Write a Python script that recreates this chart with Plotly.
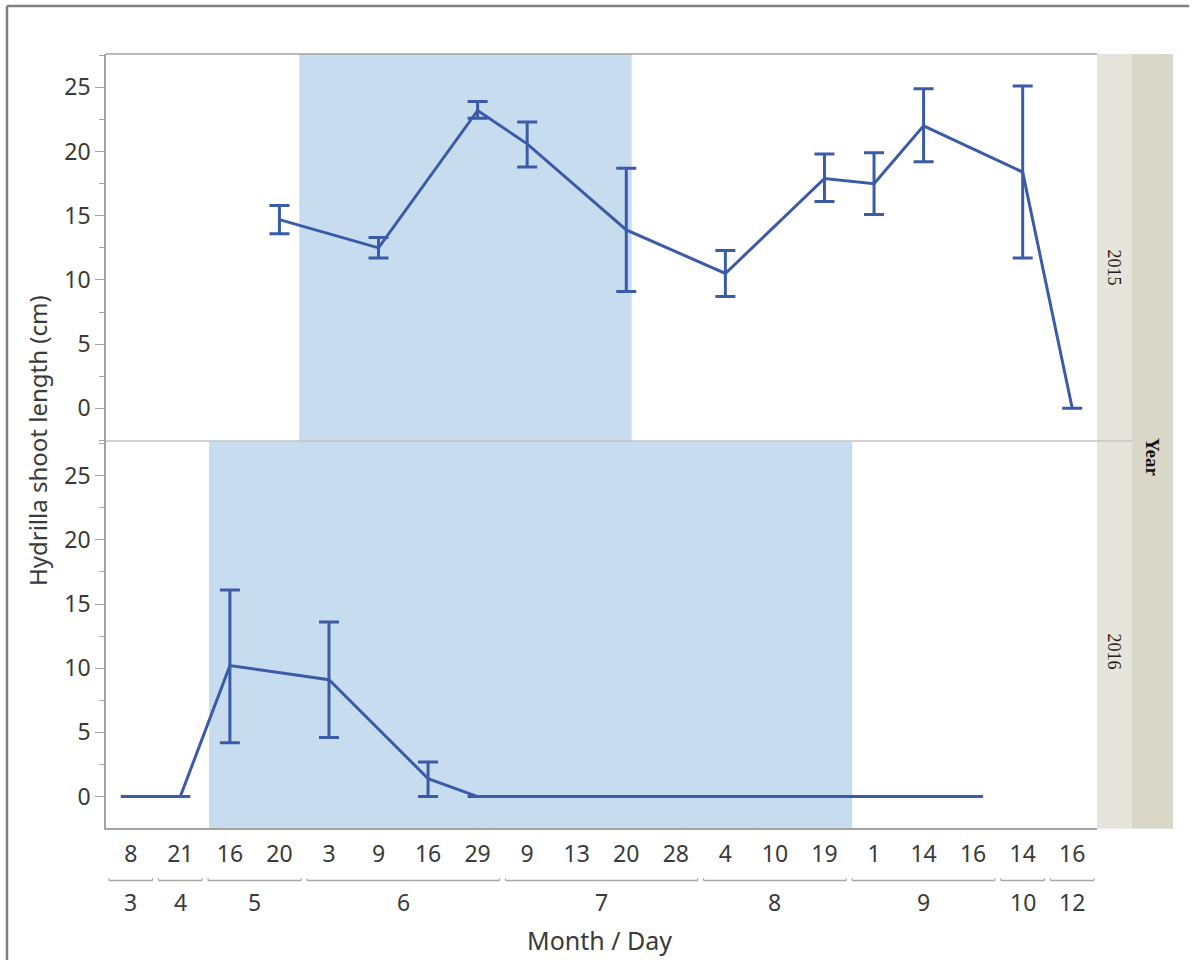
import plotly.graph_objects as go
from plotly.subplots import make_subplots

# ---------------- data ----------------
categories = ["3/8", "4/21", "5/16", "5/20", "6/3", "6/9", "6/16", "6/29", "7/9", "7/13",
              "7/20", "7/28", "8/4", "8/10", "8/19", "9/1", "9/14", "9/16", "10/14", "12/16"]
day_labels = ["8", "21", "16", "20", "3", "9", "16", "29", "9", "13",
              "20", "28", "4", "10", "19", "1", "14", "16", "14", "16"]
month_labels = ["3", "4", "5", "6", "7", "8", "9", "10", "12"]
month_counts = [1, 1, 2, 4, 4, 3, 3, 1, 1]

dates_2015 = ["5/20", "6/9", "6/29", "7/9", "7/20", "8/4", "8/19", "9/1", "9/14", "10/14", "12/16"]
mean_2015 = [14.7, 12.5, 23.2, 20.6, 13.9, 10.5, 17.9, 17.5, 22.0, 18.4, 0.0]
upper_2015 = [15.8, 13.3, 23.9, 22.3, 18.7, 12.3, 19.8, 19.9, 24.9, 25.1, 0.0]
lower_2015 = [13.6, 11.7, 22.6, 18.8, 9.1, 8.7, 16.1, 15.1, 19.2, 11.7, 0.0]

dates_2016 = ["3/8", "4/21", "5/16", "6/3", "6/16", "6/29", "7/13", "7/28", "8/10", "9/16"]
mean_2016 = [0.0, 0.0, 10.2, 9.1, 1.4, 0.0, 0.0, 0.0, 0.0, 0.0]
upper_2016 = [0.0, 0.0, 16.1, 13.6, 2.7, 0.0, 0.0, 0.0, 0.0, 0.0]
lower_2016 = [0.0, 0.0, 4.2, 4.6, 0.0, 0.0, 0.0, 0.0, 0.0, 0.0]

# shaded periods, in category-index units
shade_2015 = (3.40, 10.11)
shade_2016 = (1.58, 14.56)

years = ["2015", "2016"]
y_ticks = [0, 5, 10, 15, 20, 25]

# ---------------- style ----------------
LINE = "#3c5ba6"
SHADE = "#c8dcf0"
AXIS = "#a3a3a3"
TXT = "#3a3a3a"
FONT = "Noto Sans"
TICK_SIZE = 23
TITLE_SIZE = 24

fig = make_subplots(rows=2, cols=1, shared_xaxes=True, vertical_spacing=0.0)


def add_series(x, m, up, lo, row):
    fig.add_trace(go.Scatter(
        x=x, y=m, mode="lines",
        line=dict(color=LINE, width=3),
        error_y=dict(type="data", symmetric=False,
                     array=[u - v for u, v in zip(up, m)],
                     arrayminus=[v - l for v, l in zip(m, lo)],
                     color=LINE, thickness=3, width=10),
        showlegend=False, hoverinfo="skip"), row=row, col=1)


add_series(dates_2015, mean_2015, upper_2015, lower_2015, 1)
add_series(dates_2016, mean_2016, upper_2016, lower_2016, 2)

shapes = []
# shaded periods
shapes.append(dict(type="rect", xref="x", yref="y domain", x0=shade_2015[0], x1=shade_2015[1],
                   y0=0, y1=1, fillcolor=SHADE, line=dict(width=0), layer="below"))
shapes.append(dict(type="rect", xref="x2", yref="y2 domain", x0=shade_2016[0], x1=shade_2016[1],
                   y0=0, y1=1, fillcolor=SHADE, line=dict(width=0), layer="below"))

# right strips
shapes.append(dict(type="rect", xref="paper", yref="paper", x0=1.0, x1=1.0353, y0=-0.001, y1=1.0,
                   fillcolor="#e6e5dd", line=dict(width=0)))
shapes.append(dict(type="rect", xref="paper", yref="paper", x0=1.0353, x1=1.0767, y0=-0.001, y1=1.0,
                   fillcolor="#d9d8c8", line=dict(width=0)))
# separator between panels
shapes.append(dict(type="line", xref="paper", yref="paper", x0=0, x1=1.0353, y0=0.5, y1=0.5,
                   line=dict(color="#c4c4c4", width=1.5)))
# top border of plot
shapes.append(dict(type="line", xref="paper", yref="paper", x0=0, x1=1.0, y0=1.0, y1=1.0,
                   line=dict(color=AXIS, width=1.5)))

# month brackets
BR_Y = -0.0678
start = 0
annotations = []
for lab, cnt in zip(month_labels, month_counts):
    a = start - 0.5 + 0.06
    b = start + cnt - 0.5 - 0.06
    shapes.append(dict(type="line", xref="x2", yref="paper", x0=a, x1=b, y0=BR_Y, y1=BR_Y,
                       line=dict(color="#a8a8a8", width=1.5)))
    for xe in (a, b):
        shapes.append(dict(type="line", xref="x2", yref="paper", x0=xe, x1=xe, y0=BR_Y, y1=BR_Y + 0.003,
                           line=dict(color="#a8a8a8", width=1.2)))
    annotations.append(dict(x=start + (cnt - 1) / 2, y=-0.095, xref="x2", yref="paper",
                            text=lab, showarrow=False, yanchor="middle", xanchor="center",
                            font=dict(family=FONT, size=TICK_SIZE, color=TXT)))
    start += cnt

# outer frame
shapes.append(dict(type="line", xref="paper", yref="paper", x0=-0.0999, x1=1.093, y0=1.062, y1=1.062,
                   line=dict(color="#808080", width=2.5)))
shapes.append(dict(type="line", xref="paper", yref="paper", x0=-0.0999, x1=-0.0999, y0=1.062, y1=-0.175,
                   line=dict(color="#808080", width=2.5)))

# axis titles and strip labels
annotations.append(dict(x=0.4976, y=-0.1447, xref="paper", yref="paper", text="Month / Day",
                        showarrow=False, xanchor="center", yanchor="middle",
                        font=dict(family=FONT, size=25, color=TXT)))
annotations.append(dict(x=-0.0696, y=0.5, xref="paper", yref="paper", text="Hydrilla shoot length (cm)",
                        showarrow=False, textangle=-90, xanchor="center", yanchor="middle",
                        font=dict(family=FONT, size=TITLE_SIZE, color=TXT)))
annotations.append(dict(x=1.0176, y=0.7235, xref="paper", yref="paper", text=years[0],
                        showarrow=False, textangle=90, xanchor="center", yanchor="middle",
                        font=dict(family="Liberation Serif", size=18, color="#222222")))
annotations.append(dict(x=1.0176, y=0.2274, xref="paper", yref="paper", text=years[1],
                        showarrow=False, textangle=90, xanchor="center", yanchor="middle",
                        font=dict(family="Liberation Serif", size=18, color="#222222")))
annotations.append(dict(x=1.0558, y=0.479, xref="paper", yref="paper", text="<b>Year</b>",
                        showarrow=False, textangle=90, xanchor="center", yanchor="middle",
                        font=dict(family="Liberation Serif", size=19, color="#111111")))

yaxis_common = dict(
    tickvals=y_ticks, ticks="outside", ticklen=9, tickwidth=1, tickcolor=AXIS,
    minor=dict(dtick=2.5, tick0=0, ticks="outside", ticklen=5, tickcolor=AXIS),
    showline=True, linecolor=AXIS, linewidth=1.5, showgrid=False, zeroline=False,
    tickfont=dict(family=FONT, size=TICK_SIZE, color=TXT),
)
fig.update_yaxes(range=[-2.55, 27.6], row=1, col=1, **yaxis_common)
fig.update_yaxes(range=[-2.45, 27.7], row=2, col=1, **yaxis_common)

xaxis_common = dict(type="category", categoryorder="array", categoryarray=categories,
                    range=[-0.5, len(categories) - 0.5], showgrid=False, zeroline=False)
fig.update_xaxes(row=1, col=1, showticklabels=False, ticks="", showline=False, **xaxis_common)
fig.update_xaxes(row=2, col=1, tickvals=categories, ticktext=day_labels, ticks="outside",
                 ticklen=5, tickcolor="rgba(0,0,0,0)", showline=True, linecolor=AXIS, linewidth=1.5,
                 tickfont=dict(family=FONT, size=TICK_SIZE, color=TXT), **xaxis_common)

fig.update_layout(
    width=1193, height=960,
    margin=dict(l=106, r=96, t=54, b=132, autoexpand=False),
    paper_bgcolor="white", plot_bgcolor="white",
    shapes=shapes, annotations=annotations,
)
fig.update_yaxes(domain=[0.5, 1.0], row=1, col=1)
fig.update_yaxes(domain=[0.0, 0.5], row=2, col=1)

fig.write_html("out.html", config={"displayModeBar": False},
               post_script="document.body.style.margin='0';document.body.style.overflow='hidden';")
